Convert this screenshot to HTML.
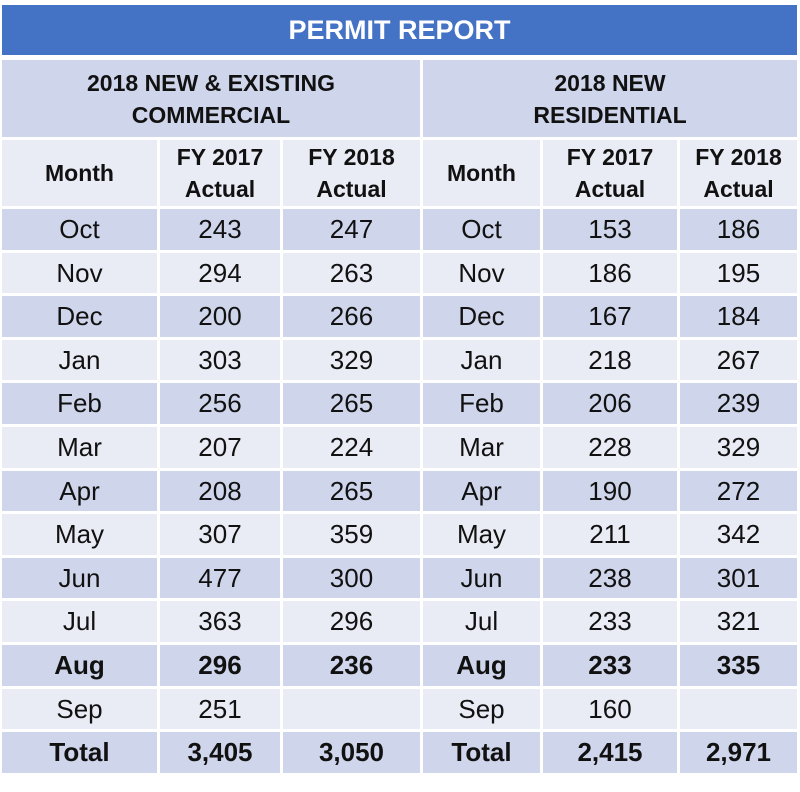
<!DOCTYPE html>
<html><head><meta charset="utf-8"><style>
body{margin:0;background:#fff;width:800px;height:792px;position:relative;font-family:"Liberation Sans",sans-serif;overflow:hidden}
.c{position:absolute;display:flex;align-items:center;justify-content:center;text-align:center;color:#111;box-sizing:border-box}
.title{left:2px;top:5px;width:795px;height:50px;background:#4472c4;color:#fff;font-weight:bold;font-size:27px}
.h1{background:#cfd5ea;font-weight:bold;font-size:23px;line-height:32px}
.h2{background:#e9ebf5;font-weight:bold;font-size:23px;line-height:32px}
.d{font-size:26px}
.dark{background:#cfd5ea}.light{background:#e9ebf5}
.b{font-weight:bold}
</style></head><body>
<div class="c title">PERMIT REPORT</div>
<div id="t"></div>
<script>
const months=['Oct','Nov','Dec','Jan','Feb','Mar','Apr','May','Jun','Jul','Aug','Sep','Total'];
const comm2017=['243','294','200','303','256','207','208','307','477','363','296','251','3,405'];
const comm2018=['247','263','266','329','265','224','265','359','300','296','236','','3,050'];
const res2017=['153','186','167','218','206','228','190','211','238','233','233','160','2,415'];
const res2018=['186','195','184','267','239','329','272','342','301','321','335','','2,971'];
const colX=[2,160,283,423,543,680,797];
const t=document.getElementById('t');
function cell(x0,x1,y0,y1,cls,html,name){
  const e=document.createElement('div');
  e.className='c '+cls;
  e.style.left=x0+'px';e.style.top=y0+'px';e.style.width=(x1-x0-3)+'px';e.style.height=(y1-y0-3)+'px';
  e.innerHTML=html;
  
  
  t.appendChild(e);
}
cell(2,423,60,140,'h1','2018 NEW &amp; EXISTING<br>COMMERCIAL','commercial-header');
cell(423,800,60,140,'h1','2018 NEW<br>RESIDENTIAL','residential-header');
const hdr=['Month','FY 2017<br>Actual','FY 2018<br>Actual','Month','FY 2017<br>Actual','FY 2018<br>Actual'];
for(let i=0;i<6;i++){cell(colX[i],colX[i+1]+(i==5?3:0),140,209,'h2',hdr[i],'column-header');}
const rowH=43.6;
for(let r=0;r<months.length;r++){
  const y0=Math.round(209+r*rowH),y1=Math.round(209+(r+1)*rowH);
  const cls='d '+(r%2==0?'dark':'light')+((months[r]=='Aug'||months[r]=='Total')?' b':'');
  const vals=[months[r],comm2017[r],comm2018[r],months[r],res2017[r],res2018[r]];
  for(let i=0;i<6;i++){cell(colX[i],colX[i+1]+(i==5?3:0),y0,y1,cls,vals[i],'cell-'+months[r].toLowerCase());}
}
</script>
</body></html>
